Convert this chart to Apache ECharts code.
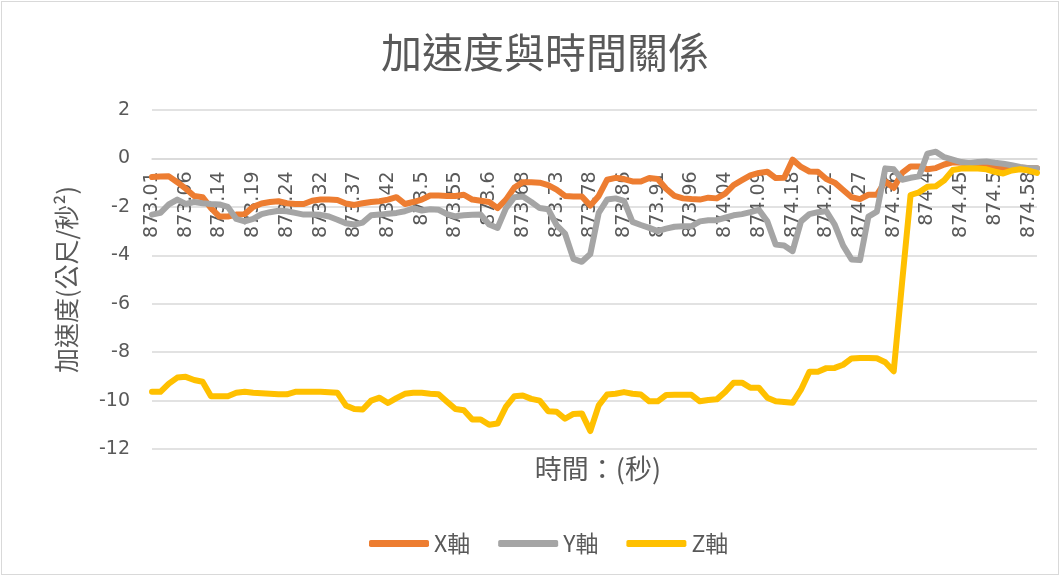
<!DOCTYPE html>
<html>
<head>
<meta charset="utf-8">
<script src="https://cdn.jsdelivr.net/npm/echarts@6/dist/echarts.min.js"></script>
<style>
  html, body { margin: 0; padding: 0; background: #fff; }
  #frame { position: absolute; left: 1px; top: 1px; width: 1056px; height: 572px; border: 1px solid #d9d9d9; }
  #chart { position: absolute; left: 0; top: 0; width: 1063px; height: 577px; }
</style>
</head>
<body>
<div id="frame"></div>
<div id="chart"></div>
<script>
// sample times (s)
const times = [
  '873.01','873.02','873.04','873.05','873.06','873.08','873.1','873.12','873.14','873.15',
  '873.16','873.18','873.19','873.2','873.22','873.23','873.24','873.26','873.28','873.3',
  '873.32','873.33','873.34','873.36','873.37','873.38','873.4','873.41','873.42','873.44',
  '873.46','873.48','873.5','873.51','873.52','873.54','873.55','873.56','873.57','873.59',
  '873.6','873.62','873.64','873.66','873.68','873.69','873.7','873.72','873.73','873.74',
  '873.76','873.77','873.78','873.8','873.82','873.84','873.86','873.87','873.88','873.9',
  '873.91','873.92','873.94','873.95','873.96','873.98','874','874.02','874.04','874.05',
  '874.06','874.08','874.09','874.11','874.13','874.16','874.18','874.19','874.2','874.21',
  '874.22','874.23','874.24','874.26','874.27','874.29','874.32','874.34','874.36','874.37',
  '874.38','874.39','874.4','874.41','874.42','874.44','874.45','874.46','874.47','874.49',
  '874.5','874.52','874.54','874.56','874.58','874.59'
];

// X-axis acceleration (m/s²)
const accX = [
  -0.77,-0.75,-0.74,-0.98,-1.25,-1.55,-1.6,-2.05,-2.4,-2.4,
  -2.32,-2.3,-2.0,-1.86,-1.8,-1.77,-1.85,-1.88,-1.88,-1.75,
  -1.7,-1.7,-1.72,-1.86,-1.92,-1.85,-1.8,-1.77,-1.7,-1.6,
  -1.88,-1.8,-1.7,-1.53,-1.53,-1.55,-1.55,-1.5,-1.7,-1.75,
  -1.8,-2.05,-1.7,-1.2,-0.98,-0.98,-1.0,-1.1,-1.29,-1.55,
  -1.57,-1.57,-1.95,-1.55,-0.88,-0.8,-0.85,-0.95,-0.95,-0.81,
  -0.85,-1.25,-1.55,-1.65,-1.68,-1.7,-1.62,-1.65,-1.45,-1.1,
  -0.9,-0.7,-0.6,-0.55,-0.81,-0.8,-0.05,-0.35,-0.54,-0.55,
  -0.85,-1.0,-1.3,-1.6,-1.68,-1.5,-1.5,-0.95,-1.22,-0.6,
  -0.33,-0.33,-0.45,-0.4,-0.25,-0.16,-0.18,-0.2,-0.25,-0.32,
  -0.38,-0.41,-0.36,-0.38,-0.4,-0.41
];

// Y-axis acceleration (m/s²)
const accY = [
  -2.32,-2.25,-1.9,-1.7,-1.88,-1.8,-1.85,-1.88,-1.9,-2.0,
  -2.5,-2.6,-2.5,-2.3,-2.22,-2.16,-2.18,-2.25,-2.32,-2.32,
  -2.33,-2.4,-2.53,-2.68,-2.73,-2.65,-2.35,-2.32,-2.28,-2.25,
  -2.18,-2.06,-2.15,-2.1,-2.12,-2.3,-2.39,-2.35,-2.33,-2.32,
  -2.73,-2.87,-2.05,-1.6,-1.57,-1.8,-2.05,-2.1,-2.75,-3.1,
  -4.15,-4.27,-3.95,-2.25,-1.7,-1.65,-1.75,-2.62,-2.75,-2.87,
  -3.0,-2.9,-2.82,-2.8,-2.8,-2.6,-2.55,-2.55,-2.45,-2.35,
  -2.3,-2.22,-2.12,-2.6,-3.56,-3.6,-3.83,-2.6,-2.3,-2.22,
  -2.18,-2.73,-3.6,-4.17,-4.2,-2.4,-2.2,-0.41,-0.45,-0.88,
  -0.8,-0.74,0.2,0.28,0.05,-0.05,-0.15,-0.2,-0.15,-0.13,
  -0.18,-0.22,-0.28,-0.35,-0.4,-0.41
];

// Z-axis acceleration (m/s²)
const accZ = [
  -9.64,-9.64,-9.3,-9.05,-9.02,-9.15,-9.22,-9.82,-9.82,-9.82,
  -9.68,-9.64,-9.68,-9.7,-9.72,-9.74,-9.74,-9.64,-9.64,-9.64,
  -9.64,-9.66,-9.68,-10.2,-10.35,-10.37,-10.0,-9.88,-10.1,-9.9,
  -9.72,-9.68,-9.68,-9.72,-9.74,-10.05,-10.35,-10.4,-10.78,-10.78,
  -11.0,-10.95,-10.25,-9.82,-9.79,-9.93,-10.0,-10.44,-10.46,-10.75,
  -10.55,-10.53,-11.26,-10.2,-9.75,-9.72,-9.65,-9.72,-9.75,-10.03,
  -10.03,-9.77,-9.76,-9.76,-9.76,-10.03,-9.98,-9.95,-9.65,-9.26,
  -9.26,-9.47,-9.47,-9.88,-10.03,-10.06,-10.09,-9.55,-8.81,-8.81,
  -8.66,-8.65,-8.52,-8.26,-8.24,-8.24,-8.25,-8.42,-8.79,-5.1,
  -1.51,-1.4,-1.17,-1.15,-0.9,-0.48,-0.42,-0.41,-0.42,-0.45,
  -0.55,-0.62,-0.5,-0.45,-0.5,-0.6
];

const seriesNames = ['X軸', 'Y軸', 'Z軸'];
const seriesColors = ['#ED7D31', '#A5A5A5', '#FFC000'];
const seriesData = [accX, accY, accZ];

// value-axis range and step
const yMin = -12, yMax = 2, yStep = 2;

const FONT = '"Noto Sans CJK TC", "Noto Sans", sans-serif';
const NUMFONT = '"DejaVu Sans", sans-serif';
const TEXT = '#595959';
const GRID = '#d9d9d9';

const GRID_TOP = 110, GRID_BOTTOM = 128, CHART_H = 577;

const chart = echarts.init(document.getElementById('chart'), null, { renderer: 'canvas' });

// the category axis sits on the zero line of the value axis
const plotH = CHART_H - GRID_TOP - GRID_BOTTOM;
const zeroFromBottom = plotH * (0 - yMin) / (yMax - yMin);

chart.setOption({
  animation: false,
  backgroundColor: 'transparent',
  textStyle: { fontFamily: FONT },
  title: [
    {
      text: '加速度與時間關係',
      left: 540,
      top: 27,
      textAlign: 'center',
      textStyle: { fontFamily: FONT, fontSize: 41, fontWeight: 'normal', color: TEXT }
    },
    {
      text: '時間：(秒)',
      left: 593,
      top: 450,
      textAlign: 'center',
      textStyle: { fontFamily: FONT, fontSize: 27, fontWeight: 'normal', color: TEXT }
    }
  ],
  legend: {
    top: 527,
    left: 364,
    itemWidth: 60,
    itemHeight: 7,
    itemGap: 28,
    icon: 'roundRect',
    textStyle: { fontFamily: FONT, fontSize: 23, color: TEXT },
    data: seriesNames
  },
  grid: { left: 152, right: 26, top: GRID_TOP, bottom: GRID_BOTTOM, containLabel: false },
  xAxis: {
    type: 'category',
    data: times,
    boundaryGap: false,
    offset: -zeroFromBottom,
    axisLine: { onZero: false, lineStyle: { color: GRID, width: 1.5 } },
    axisTick: { show: false },
    axisLabel: {
      interval: 3,
      rotate: 90,
      margin: 13,
      fontSize: 19,
      color: TEXT,
      fontFamily: NUMFONT
    },
    splitLine: { show: false }
  },
  yAxis: {
    type: 'value',
    min: yMin,
    max: yMax,
    interval: yStep,
    name: '加速度(公尺/秒²)',
    nameLocation: 'middle',
    nameRotate: 90,
    nameGap: 73,
    nameTextStyle: { fontFamily: FONT, fontSize: 25, color: TEXT },
    axisLine: { show: false },
    axisTick: { show: false },
    axisLabel: { fontSize: 19, color: TEXT, margin: 22, fontFamily: NUMFONT },
    splitLine: { lineStyle: { color: GRID, width: 1.5 } }
  },
  series: seriesNames.map((name, k) => ({
    name: name,
    type: 'line',
    data: seriesData[k],
    symbol: 'none',
    smooth: false,
    color: seriesColors[k],
    lineStyle: { width: 6, color: seriesColors[k], join: 'round', cap: 'round' }
  }))
});
</script>
</body>
</html>
